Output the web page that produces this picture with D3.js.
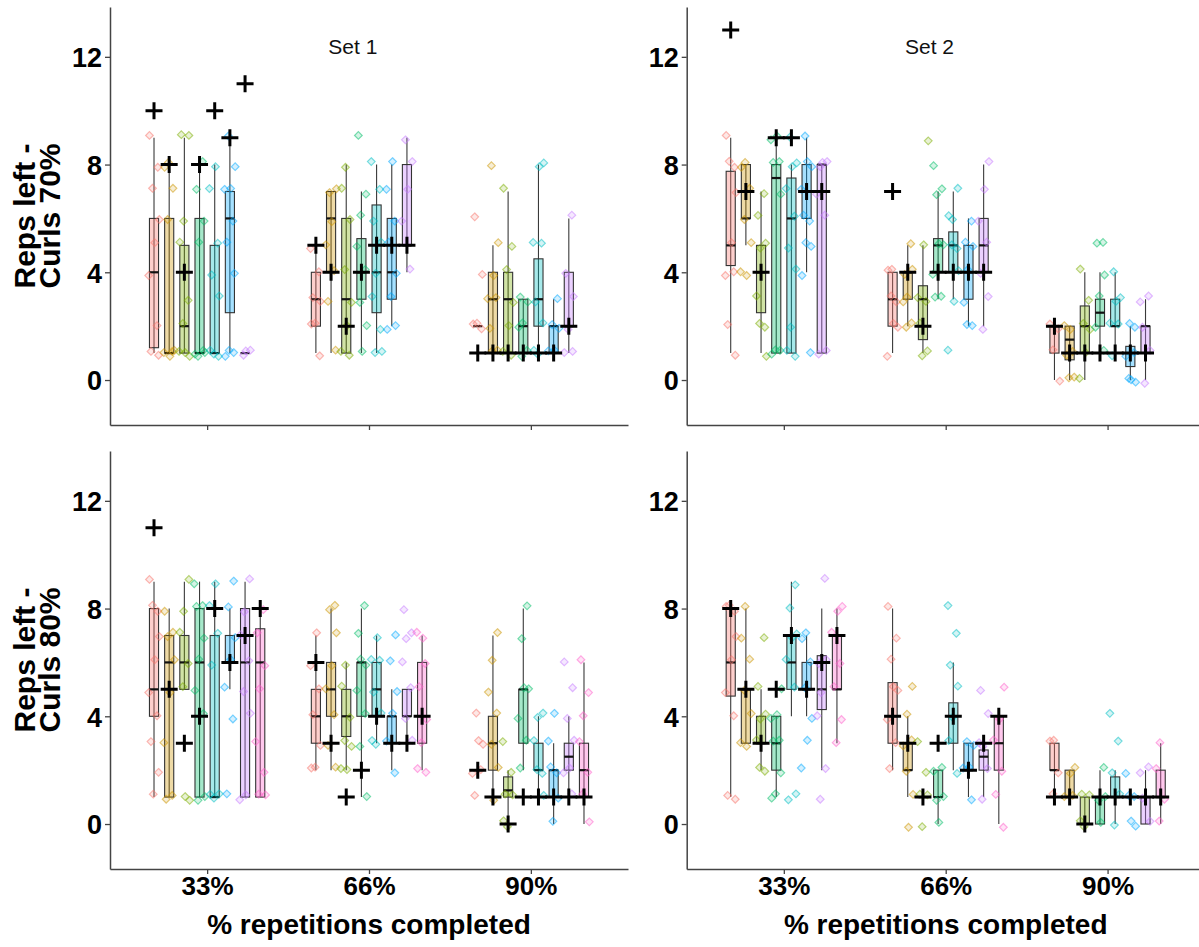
<!DOCTYPE html>
<html>
<head>
<meta charset="utf-8">
<script src="https://cdn.jsdelivr.net/npm/d3@7/dist/d3.min.js"></script>
<style>
  body { margin: 0; background: #fff; }
  svg { display: block; font-family: "Liberation Sans", Arial, sans-serif; }
</style>
</head>
<body>
<svg class="chart" width="1199" height="947"></svg>
<script>
// categories and groups
var categories = ["33%", "66%", "90%"];
var groupColors = ["#F8766D", "#CD9600", "#7CAE00", "#00BE67", "#00BFC4", "#00A9FF", "#C77CFF", "#FF61CC"];
var yTicks = [0, 4, 8, 12];
var rowTitles = [["Reps left -", "Curls 70%"], ["Reps left -", "Curls 80%"]];
var setLabels = ["Set 1", "Set 2"];

// box stats per category, per group: [lower whisker, q1, median, q3, upper whisker]
var set1c70Stats = [
  [[1,1.2,4,6,9],[1,1,1,6,8],[1,1,2,5,9],[1,1,1,6,8],[1,1,1,5,8],[1,2.5,6,7,9],[1,1,1,1,1]],
  [[1,2,3,4,5],[1,4,6,7,7],[1,1,3,6,8],[1,3,4,5.25,7],[1,2.5,4,6.5,8],[2,3,4,6,8],[4,5,5,8,9]],
  [[2,2,2,2,2],[1,1,3,4,5],[1,1,3,4,7],[1,1,2,3,3],[1,2,3,4.5,8],[1,1,2,2,3],[1,2,2,4,6]]
];
var set1c70Plus = [[10,8,4,8,10,9,11],[5,4,2,4,5,5,5],[1,1,1,1,1,1,2]];
var set1c70Points = [
  [[9,8,7,6,5,4,2,1,1],[8,8,7,6,1,1,1,1],[9,9,6,5,3,2,1,1,1],[8,7,6,5,1,1,1,1],[8,7,5,4,3,1,1,1],[9,8,7,7,6,5,4,1,1,1],[1,1,1]],
  [[5,4,3,3,2,2,1],[7,7,6,5,4,3,1],[8,7,6,4,3,2,1,1],[9,7,6,5,4,3,2,1],[8,7,6,5,4,3,2,1,1],[8,7,6,5,4,3,2,2],[9,8,7,6,4]],
  [[6,4,2,2,2],[8,5,4,3,3,2,1,1],[7,5,4,3,2,1,1],[3,3,2,2,1,1],[8,8,5,5,3,2,1,1],[3,2,2,1,1],[6,4,3,2,1,1]]
];

var set2c70Stats = [
  [[1,4.25,5,7.75,9],[5,6,6,8,8],[1,2.5,4,5,7],[1,1,7.5,8,9],[1,1,6,7.5,8],[4,6,7,8,9],[1,1,8,8,8]],
  [[1,2,3,4,4],[2,3,4,4,5],[1,1.5,3,3.5,5],[3,4,5,5.25,7],[3,4,5,5.5,7],[2,3,4,5,6],[2,4,5,6,8]],
  [[0,1,2,2,2],[0,0.75,1.5,2,2],[0,1,2,2.75,4],[1,2,2.5,3,4],[1,2,2,3,4],[0,0.5,1,1.25,2],[0,1,2,2,3]]
];
var set2c70Plus = [[13,7,4,9,9,7,7],[7,4,2,4,4,4,4],[2,1,1,1,1,1,1]];
var set2c70Points = [
  [[9,8,8,7,5,4,4,2,1],[8,8,7,6,5,4,4],[7,6,5,5,3,2,2,1],[9,9,8,8,7,1,1,1],[9,8,8,7,6,5,4,2,1,1],[9,8,8,7,6,6,5,5,4,1],[8,8,8,7,6,1,1]],
  [[4,4,3,3,2,2,1],[5,4,4,3,3,2,2],[9,5,3,3,2,1,1],[8,7,7,5,5,4,3,3],[7,6,6,5,5,4,3,1],[6,5,5,4,3,2,2],[8,7,6,5,4,3,2]],
  [[2,2,1,0],[2,2,1,1,0,0],[4,3,2,2,1,0],[5,5,4,3,2,1],[4,3,3,2,2,1],[2,2,1,1,0,0,-0.1],[3,3,2,1,0]]
];

var set1c80Stats = [
  [[1,4,5,8,9],[1,1,6,7,8],[5,5,6,7,9],[1,1,6,8,9],[1,1,1,7,9],[5,6,6,7,8],[1,1,6,8,9],[1,1,6,7.25,8]],
  [[2,3,4,5,7],[2,4,5,6,8],[2,3.25,4,5,6],[1,4,6,6,8],[3,4,5,6,7],[2,3,4,4,5],[3,4,4,5,5],[2,3,4,6,7]],
  [[2,2,2,2,2],[1,2,3,4,7],[0,1,1.25,1.75,2],[2,3,5,5,8],[1,2,2,3,4],[0,1,2,2,3],[1,2,2.5,3,4],[0,1,2,3,6]]
];
var set1c80Plus = [[11,5,3,4,8,6,7,8],[6,3,1,2,4,3,3,4],[2,1,0,1,1,1,1,1]];
var set1c80Points = [
  [[9,8,8,7,6,5,4,3,2,1],[8,7,7,6,5,3,1,1],[9,8,7,6,5,1,1],[9,8,8,7,6,5,4,1,1],[9,8,7,6,1,1,1],[9,8,7,6,5,4,1],[9,8,7,6,5,4,1,1],[8,7,6,5,3,2,1,1]],
  [[7,6,5,4,3,2,2],[8,8,7,6,5,4,3,2],[6,5,4,3,3,2,2],[8,7,6,6,5,4,3,1],[7,6,6,5,4,3,3],[7,6,5,4,3,2],[8,7,7,6,5,4,3],[7,7,6,5,4,3,2,2]],
  [[4,3,3,2,2,1],[7,6,5,4,3,2,1],[3,2,1,1,0,0],[8,7,5,5,4,3,2],[4,4,3,2,2,1],[4,3,2,2,1,0],[6,5,4,3,2,2,1],[6,5,4,3,2,1,0]]
];

var set2c80Stats = [
  [[1,4.75,6,8,8],[3,3,5,5,8],[2,3,3,4,5],[1,2,3,4,4],[4,5,6,7,9],[4,5,5,6,7],[2,4.25,5,6.25,8],[3,5,5,7,8]],
  [[2,3,4,5.25,8],[1,2,2,3,4],[1,1,1,1,1],[0,1,1,2,2],[2,3,4,4.5,6],[1,2,2,3,3],[1,2,2.5,2.75,3],[0,2,3,4,4]],
  [[1,2,2,3,3],[1,1,1,2,2],[0,0,0,1,1],[0,0,1,1,2],[0,1,1,1.75,2],[1,1,1,1,1],[0,0,1,1,2],[0,1,1,2,3]]
];
var set2c80Plus = [[8,5,3,5,7,5,6,7],[4,3,1,3,4,2,3,4],[1,1,0,1,1,1,1,1]];
var set2c80Points = [
  [[8,8,8,7,6,5,4,1,1],[8,7,6,5,4,3,3],[7,5,4,4,3,2,2],[5,4,4,3,3,2,1,1],[9,8,7,7,6,5,1,1],[7,7,6,5,4,3,2],[9,6,6,5,4,2,1],[8,8,7,6,5,4,3]],
  [[8,7,6,5,5,4,3,2],[5,4,3,3,2,1,0],[3,2,1,1,0],[2,2,1,1,0],[8,7,6,5,4,3,2],[3,3,2,2,1],[5,4,3,3,2,1],[5,4,3,2,1,0]],
  [[3,3,2,1],[2,2,1,1],[1,1,0,0],[2,1,1,0],[4,3,2,1,0],[2,1,1,0,0],[2,2,1,0],[3,2,1,0]]
];

// fixed jitter pattern (fraction of a dodge slot, and value units)
var jitterX = [-0.3, 0.25, -0.1, 0.35, 0.05, -0.35, 0.2, -0.2, 0.3, -0.05];
var jitterY = [0.08, -0.1, 0.12, -0.04, 0.1, -0.12, 0.02, 0.06, -0.08, 0.11];

// layout
var panelW = 518, panelH = 418;
var colX = [110, 686.7], rowY = [7, 451];
var yDomain = [-1.67, 13.85];
var nSlots = 8, dodge = 0.75;

var panels = [
  {row: 0, col: 0, stats: set1c70Stats, plus: set1c70Plus, points: set1c70Points},
  {row: 0, col: 1, stats: set2c70Stats, plus: set2c70Plus, points: set2c70Points},
  {row: 1, col: 0, stats: set1c80Stats, plus: set1c80Plus, points: set1c80Points},
  {row: 1, col: 1, stats: set2c80Stats, plus: set2c80Plus, points: set2c80Points}
];

var svg = d3.select(".chart");

panels.forEach(drawPanel);

function drawPanel(p) {
    var x0 = colX[p.col], y0 = rowY[p.row];
    var x = d3.scaleLinear().domain([0.4, 3.6]).range([x0, x0 + panelW]);
    var y = d3.scaleLinear().domain(yDomain).range([y0 + panelH, y0]);
    var slot = dodge / nSlots;
    var bw = x(0.4 + slot * 0.6) - x(0.4);
    var g = svg.append("g");

    function gx(ci, gi, off) { return x(ci + 1 + (gi - 3.5 + (off || 0)) * slot); }

    // boxes
    p.stats.forEach(function(cat, ci) {
        cat.forEach(function(s, gi) {
            var cx = gx(ci, gi);
            var bg = g.append("g");
            bg.append("line")
                .attr("x1", cx).attr("x2", cx)
                .attr("y1", y(s[0])).attr("y2", y(s[4]))
                .attr("stroke", "#3a3a3a").attr("stroke-width", 1.1);
            bg.append("rect")
                .attr("x", cx - bw / 2).attr("width", bw)
                .attr("y", y(s[3])).attr("height", Math.max(0, y(s[1]) - y(s[3])))
                .attr("fill", groupColors[gi]).attr("fill-opacity", 0.35)
                .attr("stroke", "#333").attr("stroke-width", 1.1);
            bg.append("line")
                .attr("x1", cx - bw / 2).attr("x2", cx + bw / 2)
                .attr("y1", y(s[2])).attr("y2", y(s[2]))
                .attr("stroke", "#111").attr("stroke-width", 2.2);
        });
    });

    // jittered points
    var k = 0;
    p.points.forEach(function(cat, ci) {
        cat.forEach(function(vals, gi) {
            vals.forEach(function(v) {
                var j = k++ % jitterX.length;
                var px = gx(ci, gi, jitterX[j]), py = y(v + jitterY[(j + gi) % jitterY.length]);
                g.append("path")
                    .attr("d", "M0,-3.8L3.8,0L0,3.8L-3.8,0Z")
                    .attr("transform", "translate(" + px + "," + py + ")")
                    .attr("fill", groupColors[gi]).attr("fill-opacity", 0.3)
                    .attr("stroke", groupColors[gi]).attr("stroke-width", 1.2)
                    .attr("opacity", 0.55);
            });
        });
    });

    // plus markers
    p.plus.forEach(function(cat, ci) {
        cat.forEach(function(v, gi) {
            var cx = gx(ci, gi), cy = y(v);
            g.append("path")
                .attr("d", "M" + (cx - 8.5) + "," + cy + "H" + (cx + 8.5) + "M" + cx + "," + (cy - 8.5) + "V" + (cy + 8.5))
                .attr("stroke", "#000").attr("stroke-width", 3).attr("fill", "none");
        });
    });

    // axes
    var yAxis = g.append("g")
        .attr("transform", "translate(" + x0 + ",0)")
        .call(d3.axisLeft(y).tickValues(yTicks).tickSize(5).tickSizeOuter(0).tickPadding(3));
    var xAxis = g.append("g")
        .attr("transform", "translate(0," + (y0 + panelH) + ")")
        .call(d3.axisBottom(x).tickValues([1, 2, 3]).tickSize(5).tickSizeOuter(0).tickPadding(3)
            .tickFormat(function(d) { return p.row === 1 ? categories[d - 1] : ""; }));
    [yAxis, xAxis].forEach(function(a) {
        a.select(".domain").attr("stroke", "#444").attr("stroke-width", 1.5);
        a.selectAll(".tick line").attr("stroke", "#444").attr("stroke-width", 1.3);
        a.selectAll(".tick text")
            .attr("fill", "#000").attr("font-size", 27).attr("font-weight", "bold")
            .attr("font-family", "Liberation Sans, Arial, sans-serif");
    });
    yAxis.selectAll(".tick text").attr("dy", "0.36em");
    xAxis.selectAll(".tick text").attr("font-size", 26);

    // set label
    if (p.row === 0) {
        g.append("text")
            .attr("x", x(1.9)).attr("y", y(12.1))
            .attr("text-anchor", "middle").attr("font-size", 21)
            .attr("fill", "#111").text(setLabels[p.col]);
    }

    // y title on left column
    if (p.col === 0) {
        var t = g.append("text")
            .attr("transform", "translate(35," + (y0 + panelH / 2) + ") rotate(-90)")
            .attr("text-anchor", "middle").attr("font-size", 30).attr("font-weight", "bold")
            .attr("fill", "#000");
        t.append("tspan").attr("x", 0).attr("y", 0).text(rowTitles[p.row][0]);
        t.append("tspan").attr("x", 0).attr("y", 25).text(rowTitles[p.row][1]);
    }

    // x title on bottom row
    if (p.row === 1) {
        g.append("text")
            .attr("x", x(2)).attr("y", 934)
            .attr("text-anchor", "middle").attr("font-size", 28).attr("font-weight", "bold")
            .attr("fill", "#000").text("% repetitions completed");
    }
}
</script>
</body>
</html>
